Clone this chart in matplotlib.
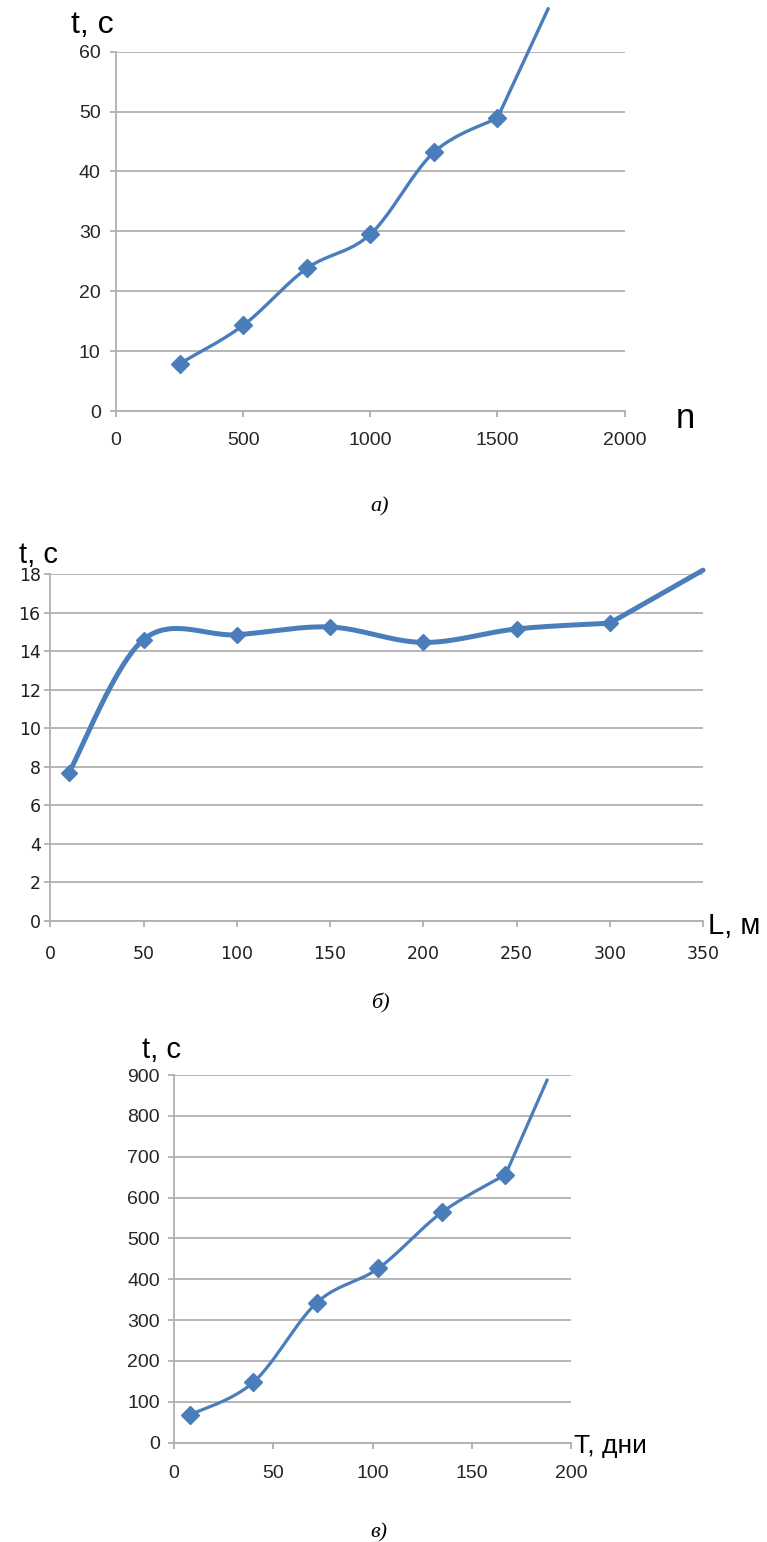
import numpy as np
import matplotlib
matplotlib.use("Agg")
import matplotlib.pyplot as plt

# ---------------- data ----------------
# chart a
a_n = [250, 500, 750, 1000, 1250, 1500, 1700]
a_t = [7.9, 14.3, 23.8, 29.5, 43.2, 48.9, 67.2]
a_xticks = [0, 500, 1000, 1500, 2000]
a_yticks = [0, 10, 20, 30, 40, 50, 60]

# chart b
b_L = [10, 50, 100, 150, 200, 250, 300, 350]
b_t = [7.7, 14.6, 14.85, 15.25, 14.45, 15.15, 15.45, 18.2]
b_xticks = [0, 50, 100, 150, 200, 250, 300, 350]
b_yticks = [0, 2, 4, 6, 8, 10, 12, 14, 16, 18]

# chart c
c_T = [8, 40, 72, 103, 135, 167, 188]
c_t = [68, 148, 343, 427, 564, 656, 888]
c_xticks = [0, 50, 100, 150, 200]
c_yticks = [0, 100, 200, 300, 400, 500, 600, 700, 800, 900]

LINE = "#4a7ebb"
GRID = "#b0b0b0"
W, H = 767, 1542


def smooth(xs, ys, n=40):
    """Excel-like smoothed line (Catmull-Rom cubic Bezier)."""
    P = np.column_stack([xs, ys]).astype(float)
    out = []
    t = np.linspace(0, 1, n)[:, None]
    for i in range(len(P) - 1):
        p0 = P[i - 1] if i > 0 else P[i]
        p1 = P[i]
        p2 = P[i + 1]
        p3 = P[i + 2] if i + 2 < len(P) else P[i + 1]
        c1 = p1 + (p2 - p0) / 6.0
        c2 = p2 - (p3 - p1) / 6.0
        B = (1 - t) ** 3 * p1 + 3 * (1 - t) ** 2 * t * c1 + 3 * (1 - t) * t ** 2 * c2 + t ** 3 * p2
        out.append(B if i == 0 else B[1:])
    return np.vstack(out)


def fx(px):
    return px / W


def fy(py):
    return 1 - py / H


def make_axes(fig, x0, x1, ytop, ybot):
    ax = fig.add_axes([fx(x0), fy(ybot), (x1 - x0) / W, (ybot - ytop) / H])
    for s in ("top", "right"):
        ax.spines[s].set_visible(False)
    for s in ("left", "bottom"):
        ax.spines[s].set_color(GRID)
        ax.spines[s].set_linewidth(1.3)
    ax.yaxis.grid(True, color=GRID, linewidth=1.3)
    ax.xaxis.grid(False)
    ax.set_axisbelow(True)
    ax.tick_params(axis="both", color=GRID, width=1.3, length=4, direction="out")
    return ax


def draw_series(ax, xs, ys, lw, ms):
    # smoothed curve through the measured points, straight extension to the last point
    s = smooth(xs[:-1], ys[:-1])
    ax.plot(s[:, 0], s[:, 1], color=LINE, lw=lw, clip_on=False, solid_capstyle="round")
    ax.plot(xs[-2:], ys[-2:], color=LINE, lw=lw, clip_on=False, solid_capstyle="round")
    ax.plot(xs[:-1], ys[:-1], ls="none", marker="D", ms=ms, color=LINE, clip_on=False)


fig = plt.figure(figsize=(W / 100, H / 100), dpi=100)
fig.patch.set_facecolor("white")

# ---------------- chart a ----------------
ax = make_axes(fig, 116, 624.5, 51.7, 411)
ax.set_xlim(0, 2000)
ax.set_ylim(0, 60)
ax.set_xticks(a_xticks)
ax.set_yticks(a_yticks)
fa = ["Liberation Sans Narrow", "Liberation Sans", "DejaVu Sans"]
for lab in ax.get_xticklabels() + ax.get_yticklabels():
    lab.set_fontfamily(fa)
    lab.set_fontsize(14)
    lab.set_color("#262626")
ax.tick_params(axis="x", pad=11)
ax.tick_params(axis="y", pad=7)
draw_series(ax, a_n, a_t, 2.4, 9.5)

fig.text(fx(71), fy(33), "t, c", fontsize=23, family="Liberation Sans", va="baseline", ha="left")
fig.text(fx(676), fy(428), "n", fontsize=25, family="Liberation Sans", va="baseline", ha="left")
fig.text(fx(380), fy(507), "а)", fontsize=16, family="Liberation Serif", style="italic",
         va="center", ha="center")

# ---------------- chart b ----------------
ax = make_axes(fig, 50.4, 703, 574, 921)
ax.set_xlim(0, 350)
ax.set_ylim(0, 18)
ax.set_xticks(b_xticks)
ax.set_yticks(b_yticks)
for lab in ax.get_xticklabels() + ax.get_yticklabels():
    lab.set_fontfamily("DejaVu Sans")
    lab.set_fontsize(12.5)
    lab.set_color("#1f1f1f")
ax.tick_params(axis="x", pad=13)
ax.tick_params(axis="y", pad=3)
draw_series(ax, b_L, b_t, 3.6, 8)

fig.text(fx(19), fy(563), "t, с", fontsize=21, family="Liberation Sans", va="baseline", ha="left")
fig.text(fx(708), fy(934), "L, м", fontsize=21, family="Liberation Sans", va="baseline", ha="left")
fig.text(fx(380), fy(1003), "б)", fontsize=16, family="Liberation Serif", style="italic",
         va="center", ha="center")

# ---------------- chart c ----------------
ax = make_axes(fig, 174, 571, 1075, 1442.7)
ax.set_xlim(0, 200)
ax.set_ylim(0, 900)
ax.set_xticks(c_xticks)
ax.set_yticks(c_yticks)
for lab in ax.get_xticklabels() + ax.get_yticklabels():
    lab.set_fontfamily("Liberation Sans")
    lab.set_fontsize(14)
    lab.set_color("#262626")
ax.tick_params(axis="x", pad=12)
ax.tick_params(axis="y", pad=6)
draw_series(ax, c_T, c_t, 2.3, 9.5)

fig.text(fx(142), fy(1058), "t, с", fontsize=21, family="Liberation Sans", va="baseline", ha="left")
fig.text(fx(574), fy(1453), "T, дни", fontsize=19, family="Liberation Sans", va="baseline", ha="left")
fig.text(fx(379), fy(1533), "в)", fontsize=16, family="Liberation Serif", style="italic",
         va="center", ha="center")

fig.savefig("out.png", dpi=100, facecolor="white")
